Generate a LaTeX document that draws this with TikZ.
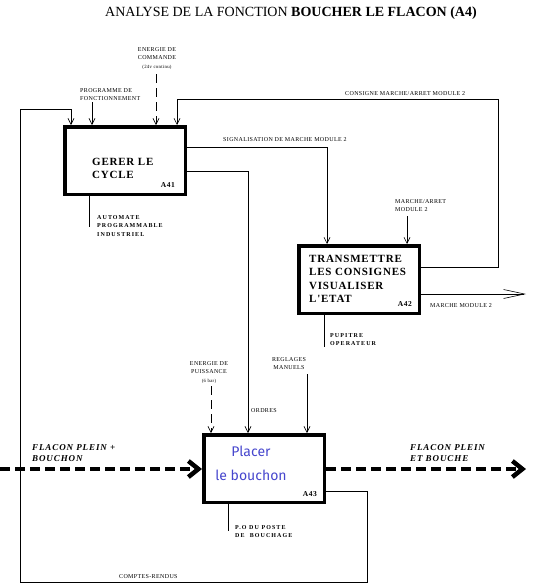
\documentclass[tikz,border=0pt]{standalone}
\usepackage{fontspec}
\setmainfont{Liberation Serif}
\newfontfamily\lblfont{Liberation Serif}[LetterSpace=6]
\newfontfamily\mecfont{Liberation Serif}[LetterSpace=18]
\newfontfamily\fctfont{Liberation Serif}[LetterSpace=7]
\newfontfamily\flxfont{Liberation Serif}[LetterSpace=10]
\newfontfamily\handfont{Fira Sans}
\usepackage{xcolor}
\definecolor{placeblue}{RGB}{70,70,205}
\usetikzlibrary{arrows.meta}

\begin{document}
\begin{tikzpicture}[
  x=1pt, y=-1pt,
  fct/.style={draw, line width=3.5pt, minimum width=120.5pt, minimum height=67.5pt, inner sep=0pt},
  fcttxt/.style={inner sep=0pt, anchor=north west, align=left, font=\fctfont\bfseries\fontsize{11}{13.3}\selectfont},
  code/.style={inner sep=0pt, anchor=base east, font=\fctfont\bfseries\fontsize{7.5}{9}\selectfont},
  lbl/.style={inner sep=0pt, anchor=north west, align=left, font=\lblfont\fontsize{6}{8.8}\selectfont},
  mec/.style={inner sep=0pt, anchor=north west, align=left, font=\mecfont\bfseries\fontsize{6}{8.5}\selectfont},
  flx/.style={inner sep=0pt, anchor=north west, align=left, font=\flxfont\bfseries\itshape\fontsize{9}{11}\selectfont},
  lnk/.style={line width=0.6pt},
  arr/.style={lnk, -{Straight Barb[length=6pt,width=6pt]}},
  nrj/.style={arr, dash pattern=on 9pt off 5pt},
  flux/.style={-{Straight Barb[length=10pt,width=16pt]}, line width=4.5pt, dash pattern=on 10pt off 5pt}
]
  \useasboundingbox (0,0) rectangle (535,584);

  \node[anchor=base west, inner sep=0pt, font=\fontsize{14}{16}\selectfont] (title) at (105,16)
    {ANALYSE DE LA FONCTION \textbf{BOUCHER LE FLACON (A4)}};

  % activity boxes
  \node[fct] (a41) at (125,160.5) {};
  \node[fct] (a42) at (359,279.5) {};
  \node[fct] (a43) at (264,468.5) {};

  \node[fcttxt] (t41) at (92,158) {GERER LE\\CYCLE};
  \node[code] (c41) at (175,187) {A41};
  \node[fcttxt] (t42) at (309,255) {TRANSMETTRE\\LES CONSIGNES\\VISUALISER\\L'ETAT};
  \node[code] (c42) at (412,306) {A42};
  \node[inner sep=0pt, anchor=north, align=center, text=placeblue,
        font=\handfont\fontsize{14}{24}\selectfont] (t43) at (251,446) {Placer\\le bouchon};
  \node[code] (c43) at (317,496) {A43};

  % labels
  \node[lbl, anchor=north, align=center] (ecmd) at (157,47)
    {ENERGIE DE\\COMMANDE\\{\fontsize{4.8}{8.8}\selectfont (24v continu)}};
  \node[lbl] (prog) at (80,88) {PROGRAMME DE\\FONCTIONNEMENT};
  \node[lbl] (cons) at (345,91) {CONSIGNE MARCHE/ARRET MODULE 2};
  \node[lbl] (sig) at (223,137) {SIGNALISATION DE MARCHE MODULE 2};
  \node[lbl] (marr) at (395,199) {MARCHE/ARRET\\MODULE 2};
  \node[lbl] (mm2) at (430,303) {MARCHE MODULE 2};
  \node[lbl, anchor=north, align=center] (epuis) at (209,361)
    {ENERGIE DE\\PUISSANCE\\{\fontsize{4.8}{8}\selectfont (6 bar)}};
  \node[lbl, anchor=north, align=center] (regl) at (289,357) {REGLAGES\\MANUELS};
  \node[lbl] (ord) at (251,408) {ORDRES};
  \node[lbl] (cr) at (119,574) {COMPTES-RENDUS};
  \node[mec] (m41) at (97,215) {AUTOMATE\\PROGRAMMABLE\\INDUSTRIEL};
  \node[mec] (m42) at (330,333) {PUPITRE\\OPERATEUR};
  \node[mec] (m43) at (235,525) {P.O DU POSTE\\DE\ \ BOUCHAGE};
  \node[flx] (fin) at (32,444) {FLACON PLEIN +\\BOUCHON};
  \node[flx] (fout) at (410,444) {FLACON PLEIN\\ET BOUCHE};

  % inputs and controls
  \draw[arr] (92,102) -- (a41.north -| 92,0);
  \draw[nrj] (156,74) -- (a41.north -| 156,0);
  \draw[arr] (a42.east |- 0,267) -| (498,99) -| (a41.north -| 177,0);
  \draw[arr] (a41.east |- 0,147) -| (a42.north -| 327,0);
  \draw[arr] (a41.east |- 0,171) -| (a43.north -| 248,0);
  \draw[arr] (407,216) -- (a42.north -| 407,0);
  \draw[nrj] (211,386) -- (a43.north -| 211,0);
  \draw[arr] (307,374) -- (a43.north -| 307,0);
  \draw[arr] (a43.east |- 0,491) -| (367,582) -| (20,109) -| (a41.north -| 71,0);

  % outputs
  \draw[lnk, -{Straight Barb[length=21pt,width=9pt]}] (a42.east |- 0,294) -- (526,294);

  % mechanisms
  \draw[lnk] (a41.south -| 89,0) -- (89,227);
  \draw[lnk] (a42.south -| 324,0) -- (324,347);
  \draw[lnk] (a43.south -| 228,0) -- (228,531);

  % product flow
  \draw[flux] (0,469) -- (a43.west |- 0,469);
  \draw[flux] (a43.east |- 0,469) -- (526,469);
\end{tikzpicture}
\end{document}
